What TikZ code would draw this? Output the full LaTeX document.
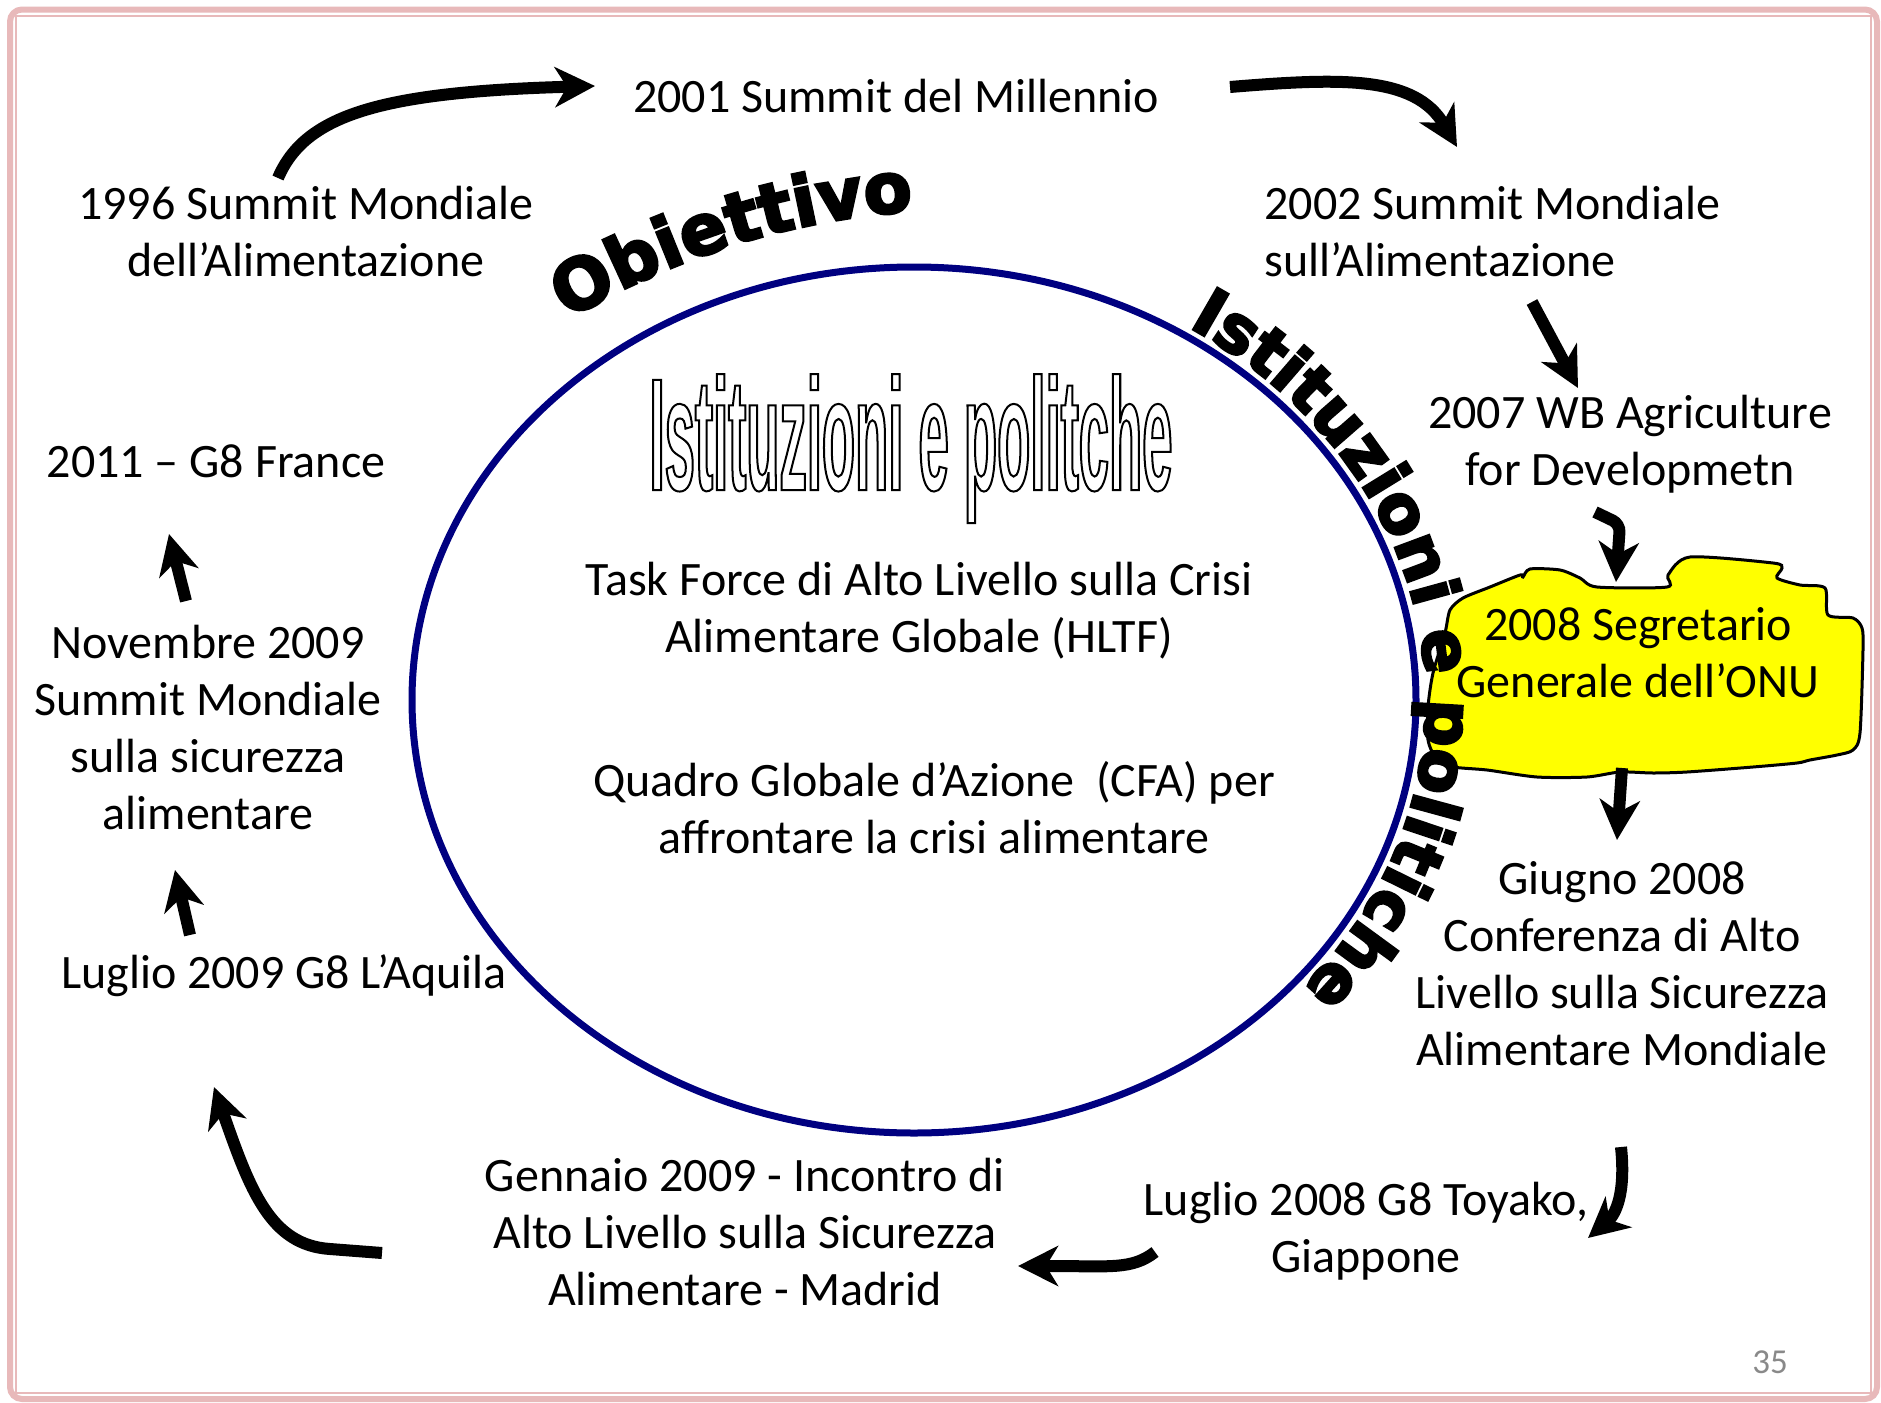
\documentclass[tikz,border=0pt]{standalone}
\usepackage{fontspec}
\setmainfont{Carlito}
\newfontfamily\arcfont{DejaVu Sans}[BoldFeatures={FakeBold=4}]
\newfontfamily\outfont{Liberation Sans}[FakeStretch=0.34]
\usetikzlibrary{arrows.meta,decorations.text}
\definecolor{borderpink}{RGB}{232,185,186}
\definecolor{ringblue}{RGB}{0,0,128}
\definecolor{cloudyellow}{RGB}{255,255,0}
\definecolor{pagegray}{RGB}{137,137,137}
\newcommand\arcstyle{\arcfont\bfseries\fontsize{35}{35}\selectfont}
\newcommand\arcstyleB{\arcfont\bfseries\fontsize{33}{33}\selectfont}
\newcommand\outlinetext[1]{\special{pdf:literal direct 1 Tr 1 w 0 G}#1\special{pdf:literal direct 0 Tr}}
\begin{document}
\begin{tikzpicture}[x=0.5pt,y=-0.5pt,
  lbl/.style={font=\fontsize{24}{28.5}\selectfont, align=center, inner sep=0pt},
  flow/.style={line width=6pt, -{Stealth[length=20pt,width=20pt,inset=6pt]}}]
\path[use as bounding box, fill=white] (0,0) rectangle (1881,1403);
% border
\draw[borderpink, line width=3pt, rounded corners=6pt] (10,9.5) rectangle (1877,1399);
\draw[borderpink, line width=1pt] (16,16) rectangle (1871,1393);
% ring
\draw[ringblue, line width=3.5pt] (914,700) ellipse [x radius=502, y radius=433];
% outlined title
\node[anchor=base, inner sep=0pt] (title) at (911,490)
  {\outfont\bfseries\fontsize{80}{80}\selectfont\outlinetext{Istituzioni e politche}};
% cloud
\draw[fill=cloudyellow, line width=1.5pt] plot[smooth cycle, tension=0.45] coordinates {
 (1433,673) (1445,633) (1450,610) (1463,598) (1490,587) (1520,575) (1523,577) (1530,569)
 (1560,570) (1580,578) (1597,587) (1667,587) (1668,575) (1690,557) (1773,563) (1782,568)
 (1777,578) (1800,585) (1825,588) (1828,615) (1853,618) (1862,628) (1863,650) (1860,733)
 (1853,750) (1837,755) (1810,760) (1797,763) (1753,767) (1687,772) (1653,773) (1620,772)
 (1587,777) (1537,777) (1487,770) (1453,767) (1437,760) (1428,740) (1428,707)};
\node[lbl] (onu) at (1638,653) {2008 Segretario\\Generale dell’ONU};
% arched texts
\path[decorate, decoration={text along path, text={|\arcstyle|Obiettivo}, text align=center}]
  (968,986) ++(-123:777) arc[start angle=-123, end angle=-92, radius=777];
\path[decorate, decoration={text along path, text={|\arcstyleB|Istituzioni e politiche}, text align=center}]
  (914,700) ++(-58:512 and 442) arc[start angle=-58, end angle=41, x radius=512, y radius=442];
% labels
\node[lbl] (n2001) at (896,96) {2001 Summit del Millennio};
\node[lbl] (n1996) at (306,232) {1996 Summit Mondiale\\dell’Alimentazione};
\node[lbl, anchor=west, align=left] (n2002) at (1264,232) {2002 Summit Mondiale\\sull’Alimentazione};
\node[lbl] (n2007) at (1630,444) {2007 WB Agriculture\\for Developmetn};
\node[lbl] (giugno) at (1622,964) {Giugno 2008\\Conferenza di Alto\\Livello sulla Sicurezza\\Alimentare Mondiale};
\node[lbl] (toyako) at (1366,1231) {Luglio 2008 G8 Toyako,\\Giappone};
\node[lbl] (madrid) at (745,1232) {Gennaio 2009 - Incontro di\\Alto Livello sulla Sicurezza\\Alimentare - Madrid};
\node[lbl] (aquila) at (284,976) {Luglio 2009 G8 L’Aquila};
\node[lbl] (nov) at (208,728) {Novembre 2009\\Summit Mondiale\\sulla sicurezza\\alimentare};
\node[lbl] (n2011) at (216,461) {2011 – G8 France};
\node[lbl] (hltf) at (919,611) {Task Force di Alto Livello sulla Crisi\\Alimentare Globale (HLTF)};
\node[lbl] (cfa) at (934,808) {Quadro Globale d’Azione~ (CFA) per\\affrontare la crisi alimentare};
\node[inner sep=0pt, text=pagegray, font=\fontsize{17.5}{20}\selectfont] (pg) at (1770,1362) {35};
% arrow end points
\coordinate (a1s) at (278,178);  \coordinate (a1e) at (595,86);
\coordinate (a2s) at (1230,87);  \coordinate (a2e) at (1457,147);
\coordinate (a3s) at (1532,302); \coordinate (a3e) at (1578,388);
\coordinate (a4s) at (1595,512); \coordinate (a4e) at (1616,582);
\coordinate (a5s) at (1622,768); \coordinate (a5e) at (1617,840);
\coordinate (a6s) at (1621,1147); \coordinate (a6e) at (1588,1238);
\coordinate (a7s) at (1155,1252); \coordinate (a7e) at (1018,1266);
\coordinate (a8s) at (382,1253); \coordinate (a8e) at (214,1087);
\coordinate (a9s) at (190,935);  \coordinate (a9e) at (175,870);
\coordinate (a10s) at (186,601); \coordinate (a10e) at (169,534);
% arrows
\draw[flow] (a1s) .. controls (305,115) and (380,92) .. (a1e);
\draw[flow] (a2s) .. controls (1340,78) and (1415,75) .. (a2e);
\draw[flow] (a3s) -- (a3e);
\draw[flow, rounded corners=4pt] (a4s) -- (1620,524) -- (a4e);
\draw[flow] (a5s) -- (a5e);
\draw[flow] (a6s) .. controls (1626,1195) and (1615,1215) .. (a6e);
\draw[flow] (a7s) .. controls (1132,1270) and (1110,1266) .. (1050,1266) -- (a7e);
\draw[flow] (a8s) -- (330,1249) .. controls (270,1245) and (250,1190) .. (a8e);
\draw[flow] (a9s) -- (a9e);
\draw[flow] (a10s) -- (a10e);
\end{tikzpicture}
\end{document}
